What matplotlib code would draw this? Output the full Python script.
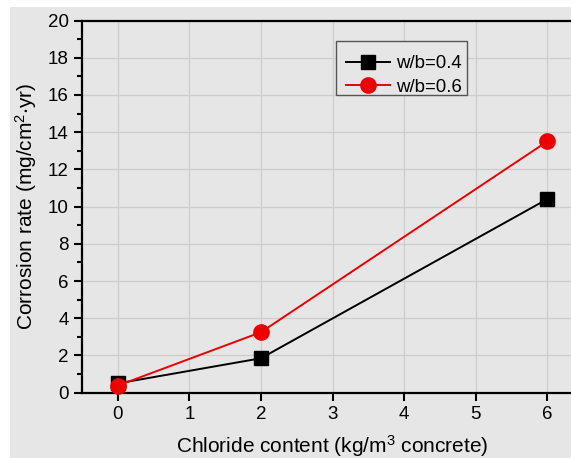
import matplotlib
matplotlib.use('Agg')
import matplotlib.pyplot as plt
from matplotlib.patches import Rectangle

chloride = [0, 2, 6]
rate_04 = [0.5, 1.85, 10.4]
rate_06 = [0.38, 3.25, 13.5]
labels = ['w/b=0.4', 'w/b=0.6']

plt.rcParams['font.family'] = ['Liberation Sans', 'DejaVu Sans']
plt.rcParams['mathtext.default'] = 'regular'

bg = '#e6e6e6'
W, H = 571, 458
fig = plt.figure(figsize=(W / 100, H / 100), dpi=100, facecolor='white')
fig.patches.append(Rectangle((10 / W, 0), 1, 1 - 7 / H, transform=fig.transFigure,
                             facecolor=bg, edgecolor='none', zorder=-10))

ax = fig.add_axes([82 / W, 1 - 392.7 / H, 501 / W, 372.2 / H])
ax.set_facecolor(bg)

ax.plot(chloride, rate_04, color='black', marker='s', markersize=9.5, linewidth=1.4,
        label=labels[0], zorder=3, clip_on=False)
ax.plot(chloride, rate_06, color='#ee0000', marker='o', markersize=11, linewidth=1.4,
        label=labels[1], zorder=4, clip_on=False)

ax.set_xlim(-0.5, 6.5)
ax.set_ylim(0, 20)
ax.set_xticks(range(0, 7))
ax.set_yticks(range(0, 21, 2))
ax.set_yticks(range(1, 20, 2), minor=True)
ax.tick_params(axis='both', which='major', direction='out', length=6, width=1.5, labelsize=13.5)
ax.tick_params(axis='y', which='minor', direction='out', length=3.5, width=1.5)
ax.grid(True, which='major', color='#cdcdcd', linewidth=0.9)
ax.set_axisbelow(True)
for s in ax.spines.values():
    s.set_linewidth(1.6)

ax.set_xlabel('Chloride content (kg/m$^3$ concrete)', fontsize=15, labelpad=7)
ax.set_ylabel('Corrosion rate (mg/cm$^2$$\\cdot$yr)', fontsize=15, labelpad=6)

# legend box drawn separately so the rows sit where the original has them
ax.add_patch(Rectangle((336 / W, 1 - 95 / H), 131 / W, 54 / H, transform=fig.transFigure,
                       facecolor=bg, edgecolor='#555555', linewidth=1.0, zorder=5,
                       clip_on=False))
leg = ax.legend(loc='center left', bbox_to_anchor=(337 / W, 1 - 75.5 / H),
                bbox_transform=fig.transFigure, borderaxespad=0, fontsize=13.4,
                frameon=False, handlelength=2.35, handletextpad=0.3, borderpad=0.5,
                labelspacing=0.35)
leg.set_zorder(6)

fig.savefig('out.png', dpi=100, facecolor=fig.get_facecolor())
